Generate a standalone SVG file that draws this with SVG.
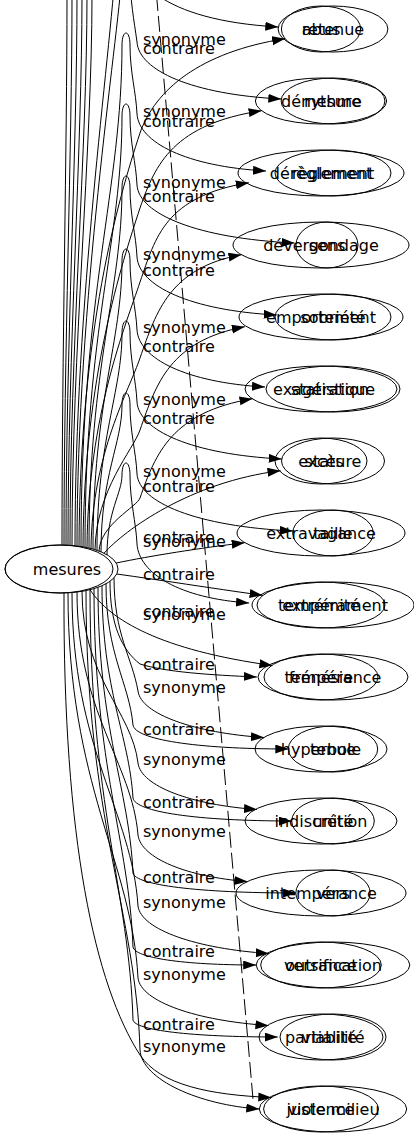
<svg xmlns="http://www.w3.org/2000/svg" width="414" height="1139" viewBox="0 0 414 1139">
<style>
text{font-family:"DejaVu Sans","Liberation Sans",sans-serif;font-size:16px;fill:#000}
.nd ellipse{fill:none;stroke:#000;stroke-width:1}
.nd text{text-anchor:middle}
#edges path{fill:none;stroke:#000;stroke-width:1}
#edges .a{marker-end:url(#arr)}
#edges .dash{stroke-dasharray:16,5}
</style>
<defs>
<marker id="arr" markerUnits="userSpaceOnUse" markerWidth="14" markerHeight="10" refX="13" refY="4.5" orient="auto">
<path d="M0,0 L13,4.5 L0,9 z" fill="#000"/>
</marker>
</defs>
<rect width="414" height="1139" fill="#fff"/>
<g id="edges">
<path d="M 62,545 C 62,350 67,150 67,-5"/>
<path d="M 64,545 C 64,350 72,150 72,-5"/>
<path d="M 66,545 C 66,350 77,150 77,-5"/>
<path d="M 68,545.2 C 68,350 82,150 82,-5"/>
<path d="M 70,545.3 C 70,350 87,150 87,-5"/>
<path d="M 72,545.5 C 72,350 92,150 92,-5"/>
<path class="dash" d="M 156.5,-5 L 253,1099"/>
<path class="a" d="M 75,545.7 C 75,300 110,60 116,-40 C 119,-75 125,-80 126,-60 C 128,-20 160,20 278.3,27"/>
<path class="a" d="M 77,545.9 C 77,300 118,40 122,-27 C 123,-43 130,-43 130,-27 C 130,0 134,20 137,42 C 139,70.5 191.8,94.4 281.3,99"/>
<path class="a" d="M 81,546.5 C 81,291.8 122,189.9 122,45 C 122,29 130,29 130,45 C 130,72 136,92 137,114 C 139,142.5 186,166.4 266,171"/>
<path class="a" d="M 85,547.3 C 85,327.6 122,239.8 122,116 C 122,100 130,100 130,116 C 130,143 136,163 137,185 C 139,214 196.9,238.4 294.5,243"/>
<path class="a" d="M 89,548 C 89,364 122,290.4 122,188 C 122,172 130,172 130,188 C 130,215 136,235 137,257 C 139,286 190.1,310.4 276.7,315"/>
<path class="a" d="M 93,549.1 C 93,401 122,341.8 122,261 C 122,245 130,245 130,261 C 130,288 136,308 137,330 C 139,358.5 185.6,382.4 265,387"/>
<path class="a" d="M 97,550.4 C 97,437.7 122,392.6 122,333 C 122,317 130,317 130,333 C 130,360 136,380 137,402 C 139,430.5 192,454.4 281.7,459"/>
<path class="a" d="M 101,552 C 101,474.5 122,443.5 122,405 C 122,389 130,389 130,405 C 130,432 136,452 137,474 C 139,502.5 196.2,526.4 292.9,531"/>
<path class="a" d="M 107,555 C 107,511 122,493.4 122,475 C 122,459 130,459 130,475 C 130,502 136,522 137,544 C 139,573.5 179.6,598.3 249.1,603"/>
<path class="a" d="M 79,546.2 C 80,330 118,200 140,133 C 155,90 200,52 285.1,38.7"/>
<path class="a" d="M 83,546.9 C 84,377.5 122,263 140,208 C 155.5,163.5 173.6,124.2 261.6,110.7"/>
<path class="a" d="M 87,547.6 C 88,414.8 125.9,325.1 140,282 C 155.8,236.6 165,196.6 248.8,182.7"/>
<path class="a" d="M 91,548.7 C 92,453.4 129.8,389 140,358 C 156.5,310.7 170,268 241.4,254.7"/>
<path class="a" d="M 95,549.8 C 96,489.9 133.6,449.4 140,430 C 156.5,382.7 170,341 244.8,326.7"/>
<path class="a" d="M 99,551.2 C 100,524.6 137.2,506.6 140,498 C 155.8,452.6 172,412.4 252.5,398.7"/>
<path class="a" d="M 104,553.2 C 125,530 190,482 280.5,470.7"/>
<path class="a" d="M 116.2,563 C 150,556 200,548 244.7,542.7"/>
<path class="a" d="M 116.7,574 C 160,580 210,588 262.6,595.3"/>
<path class="a" d="M 90,589.7 C 110,620 160,650 272.4,665.5"/>
<path class="a" d="M 114,577.8 C 114,634.4 132,657 138,691 C 141,714.3 194.7,732.9 263.9,737.5"/>
<path class="a" d="M 82,591.3 C 82,677.2 132,711.5 138,763 C 141,786.3 191.5,804.9 257,809.5"/>
<path class="a" d="M 77,592 C 77,713.5 132,762.1 138,835 C 141,858.3 187.2,876.9 247.3,881.5"/>
<path class="a" d="M 72,592.5 C 72,749.3 132,812 138,906 C 141,929.8 196.9,948.8 268.8,953.5"/>
<path class="a" d="M 68,592.8 C 68,785.4 132,862.4 138,978 C 141,1001.8 196.7,1020.8 268.4,1025.5"/>
<path class="a" d="M 64,593 C 63,840 95,985 140,1055 C 160,1085 210,1095 271.3,1097.5"/>
<path class="a" d="M 110,581.3 C 110,625 122,650 140,664 C 165,672 210,675 256.9,677"/>
<path class="a" d="M 106,583.7 C 106,654.4 129,682.6 133,725 C 135,739.4 195.1,749 288.3,749"/>
<path class="a" d="M 102,585.7 C 102,691.8 129,734.3 133,798 C 135,811.8 196.5,821 291.7,821"/>
<path class="a" d="M 98,587.3 C 98,730.2 129,787.3 133,873 C 135,885 198.1,893 295.8,893"/>
<path class="a" d="M 94,588.7 C 94,767.9 129,839.5 133,947 C 135,957.8 182.3,965 256.2,965"/>
<path class="a" d="M 90,589.7 C 90,804.9 129,890.9 133,1020 C 135,1030.2 190.9,1037 277.7,1037"/>
<path class="a" d="M 86,590.6 C 86,820.3 136,912.2 140,1050 C 142,1080 200,1105 259.3,1109"/>
</g>
<g id="edge-labels">
<text x="143" y="45">synonyme</text>
<text x="143" y="54">contraire</text>
<text x="143" y="117">synonyme</text>
<text x="143" y="127">contraire</text>
<text x="143" y="188">synonyme</text>
<text x="143" y="202">contraire</text>
<text x="143" y="260">synonyme</text>
<text x="143" y="276">contraire</text>
<text x="143" y="333">synonyme</text>
<text x="143" y="352">contraire</text>
<text x="143" y="405">synonyme</text>
<text x="143" y="424">contraire</text>
<text x="143" y="477">synonyme</text>
<text x="143" y="492">contraire</text>
<text x="143" y="543">contraire</text>
<text x="143" y="547">synonyme</text>
<text x="143" y="580">contraire</text>
<text x="143" y="617">contraire</text>
<text x="143" y="620">synonyme</text>
<text x="143" y="670">contraire</text>
<text x="143" y="693">synonyme</text>
<text x="143" y="735">contraire</text>
<text x="143" y="765">synonyme</text>
<text x="143" y="808">contraire</text>
<text x="143" y="837">synonyme</text>
<text x="143" y="883">contraire</text>
<text x="143" y="908">synonyme</text>
<text x="143" y="957">contraire</text>
<text x="143" y="980">synonyme</text>
<text x="143" y="1030">contraire</text>
<text x="143" y="1052">synonyme</text>
</g>
<g id="n-mesures" class="nd">
<ellipse cx="59" cy="569" rx="54" ry="24"/>
<ellipse cx="61.5" cy="569" rx="56.5" ry="24"/>
<text x="67" y="575">mesures</text>
</g>
<g id="n-abus" class="nd"><ellipse cx="321" cy="29" rx="39.6" ry="23"/><text x="321" y="34.5">abus</text></g>
<g id="n-retenue" class="nd"><ellipse cx="333" cy="29" rx="54.9" ry="23"/><text x="333" y="34.5">retenue</text></g>
<g id="n-demesure" class="nd"><ellipse cx="321" cy="101" rx="65.6" ry="23"/><text x="321" y="106.5">démesure</text></g>
<g id="n-rythme" class="nd"><ellipse cx="333" cy="101" rx="51.9" ry="23"/><text x="333" y="106.5">rythme</text></g>
<g id="n-dereglement" class="nd"><ellipse cx="321" cy="173" rx="83" ry="23"/><text x="321" y="178.5">dérèglement</text></g>
<g id="n-reglement" class="nd"><ellipse cx="333" cy="173" rx="58" ry="23"/><text x="333" y="178.5">règlement</text></g>
<g id="n-devergondage" class="nd"><ellipse cx="321" cy="245" rx="88" ry="23"/><text x="321" y="250.5">dévergondage</text></g>
<g id="n-sens" class="nd"><ellipse cx="327" cy="245" rx="31" ry="23"/><text x="327" y="250.5">sens</text></g>
<g id="n-emportement" class="nd"><ellipse cx="321" cy="317" rx="82" ry="23"/><text x="321" y="322.5">emportement</text></g>
<g id="n-sobriete" class="nd"><ellipse cx="333" cy="317" rx="58" ry="23"/><text x="333" y="322.5">sobriété</text></g>
<g id="n-exageration" class="nd"><ellipse cx="321" cy="389" rx="76" ry="23"/><text x="321" y="394.5">exagération</text></g>
<g id="n-statistique" class="nd"><ellipse cx="333" cy="389" rx="67" ry="23"/><text x="333" y="394.5">statistique</text></g>
<g id="n-exces" class="nd"><ellipse cx="321" cy="461" rx="46" ry="23"/><text x="321" y="466.5">excès</text></g>
<g id="n-stature" class="nd"><ellipse cx="333" cy="461" rx="51.5" ry="23"/><text x="333" y="466.5">stature</text></g>
<g id="n-extravagance" class="nd"><ellipse cx="321" cy="533" rx="84" ry="23"/><text x="321" y="538.5">extravagance</text></g>
<g id="n-taille" class="nd"><ellipse cx="333" cy="533" rx="40.3" ry="23"/><text x="333" y="538.5">taille</text></g>
<g id="n-extremite" class="nd"><ellipse cx="321" cy="605" rx="64" ry="23"/><text x="321" y="610.5">extrémité</text></g>
<g id="n-temperament" class="nd"><ellipse cx="333" cy="605" rx="81" ry="23"/><text x="333" y="610.5">tempérament</text></g>
<g id="n-frenesie" class="nd"><ellipse cx="321" cy="677" rx="57" ry="23"/><text x="321" y="682.5">frénésie</text></g>
<g id="n-temperance" class="nd"><ellipse cx="333" cy="677" rx="75" ry="23"/><text x="333" y="682.5">tempérance</text></g>
<g id="n-hyperbole" class="nd"><ellipse cx="321" cy="749" rx="66" ry="23"/><text x="321" y="754.5">hyperbole</text></g>
<g id="n-tenue" class="nd"><ellipse cx="333" cy="749" rx="44.7" ry="23"/><text x="333" y="754.5">tenue</text></g>
<g id="n-indiscretion" class="nd"><ellipse cx="321" cy="821" rx="76" ry="23"/><text x="321" y="826.5">indiscrétion</text></g>
<g id="n-unite" class="nd"><ellipse cx="333" cy="821" rx="41.3" ry="23"/><text x="333" y="826.5">unité</text></g>
<g id="n-intemperance" class="nd"><ellipse cx="321" cy="893" rx="85" ry="23"/><text x="321" y="898.5">intempérance</text></g>
<g id="n-vers" class="nd"><ellipse cx="333" cy="893" rx="37.2" ry="23"/><text x="333" y="898.5">vers</text></g>
<g id="n-outrance" class="nd"><ellipse cx="321" cy="965" rx="60.3" ry="23"/><text x="321" y="970.5">outrance</text></g>
<g id="n-versification" class="nd"><ellipse cx="333" cy="965" rx="76.8" ry="23"/><text x="333" y="970.5">versification</text></g>
<g id="n-partialite" class="nd"><ellipse cx="321" cy="1037" rx="62" ry="23"/><text x="321" y="1042.5">partialité</text></g>
<g id="n-viabilite" class="nd"><ellipse cx="333" cy="1037" rx="53" ry="23"/><text x="333" y="1042.5">viabilité</text></g>
<g id="n-violence" class="nd"><ellipse cx="321" cy="1109" rx="57.4" ry="23"/><text x="321" y="1114.5">violence</text></g>
<g id="n-juste-milieu" class="nd"><ellipse cx="333" cy="1109" rx="73.7" ry="23"/><text x="333" y="1114.5">juste milieu</text></g>
</svg>
